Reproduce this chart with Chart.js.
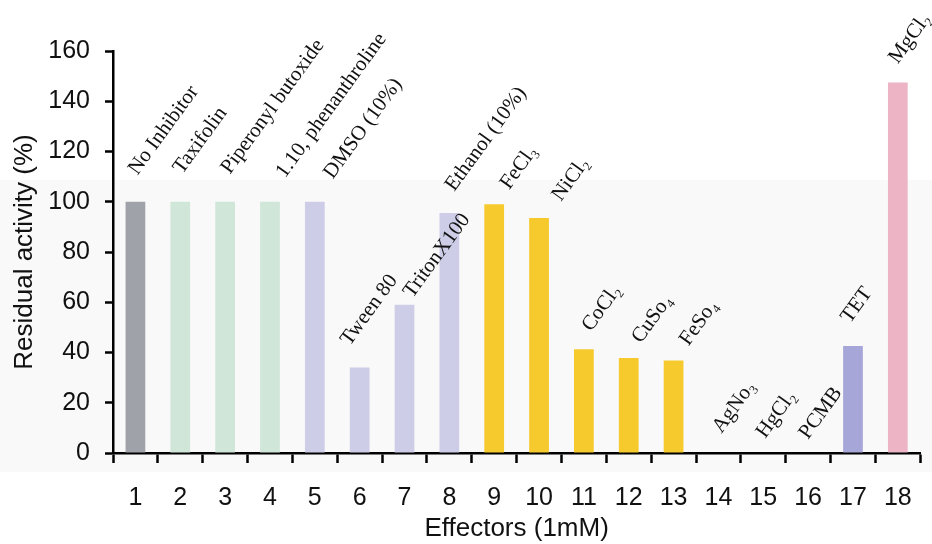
<!DOCTYPE html>
<html>
<head>
<meta charset="utf-8">
<script src="https://cdn.jsdelivr.net/npm/chart.js@4.4.1/dist/chart.umd.min.js"></script>
<style>
  html, body { margin: 0; padding: 0; background: #fff; }
  #wrap { width: 932px; height: 544px; position: relative; }
</style>
</head>
<body>
<div id="wrap"><canvas id="effectors" width="932" height="544"></canvas></div>
<script>
// categories (tick labels) and effector names written above each bar
const categorias = ['1','2','3','4','5','6','7','8','9','10','11','12','13','14','15','16','17','18'];
const efetores = [
    'No Inhibitor', 'Taxifolin', 'Piperonyl butoxide', '1.10, phenanthroline', 'DMSO (10%)',
    'Tween 80', 'TritonX100', 'Ethanol (10%)', 'FeCl₃', 'NiCl₂',
    'CoCl₂', 'CuSo₄', 'FeSo₄', 'AgNo₃', 'HgCl₂', 'PCMB', 'TET', 'MgCl₂'
];
// residual activity (%)
const atividade = [100, 100, 100, 100, 100, 34, 59, 95.5, 99, 93.5, 41.3, 37.8, 36.8, 0, 0, 0, 42.6, 147.5];
const yTicks = [0, 20, 40, 60, 80, 100, 120, 140, 160];

const cores = [
    '#9fa2a9', '#d0e6d9', '#d0e6d9', '#d0e6d9', '#cdcde7', '#cdcde7', '#cdcde7', '#cdcde7',
    '#f6c92c', '#f6c92c', '#f6c92c', '#f6c92c', '#f6c92c', '#f6c92c', '#f6c92c', '#f6c92c',
    '#a6a6d8', '#ecb4c5'
];
// small nudges of each rotated name relative to its bar top (px)
const ajusteX = [2, 2, 5, 15, 18, -10, 8, 5, 15, 22, 7, 12, 15, 3, 2, 0, -3, 0];
const ajusteY = [-26, -27, -27, -23, -22, -21, -6, -21, -14, -16, -17, -14, -14, -19, -14, -13, -22, -18];

const sans = "'Liberation Sans', Arial, sans-serif";

// faint grey band behind the lower part of the figure
const fundo = {
    id: 'fundo',
    beforeDraw(chart) {
        const ctx = chart.ctx;
        ctx.save();
        ctx.fillStyle = '#f9f9f9';
        ctx.fillRect(0, 180, chart.width, 292);
        ctx.restore();
    }
};

// rotated effector names above the bars
const rotulos = {
    id: 'rotulos',
    afterDatasetsDraw(chart) {
        const ctx = chart.ctx;
        const meta = chart.getDatasetMeta(0);
        ctx.save();
        ctx.fillStyle = '#111';
        ctx.font = "21px 'Liberation Serif', 'Times New Roman', serif";
        ctx.textAlign = 'left';
        ctx.textBaseline = 'alphabetic';
        meta.data.forEach((bar, i) => {
            ctx.save();
            ctx.translate(bar.x + ajusteX[i], bar.y + ajusteY[i]);
            ctx.rotate(-54 * Math.PI / 180);
            ctx.fillText(efetores[i], 0, 0);
            ctx.restore();
        });
        ctx.restore();
    }
};

new Chart(document.getElementById('effectors'), {
    type: 'bar',
    plugins: [fundo, rotulos],
    data: {
        labels: categorias,
        datasets: [{
            data: atividade,
            backgroundColor: cores,
            barPercentage: 0.88,
            categoryPercentage: 0.5
        }]
    },
    options: {
        responsive: false,
        animation: false,
        layout: { padding: { left: 4, top: 51, right: 10, bottom: 0 } },
        plugins: {
            legend: { display: false },
            tooltip: { enabled: false }
        },
        scales: {
            x: {
                offset: true,
                afterFit: axis => { axis.height = 91; },
                grid: {
                    offset: true,
                    drawOnChartArea: false,
                    drawTicks: true,
                    tickLength: 10,
                    tickWidth: 2.5,
                    tickColor: '#000'
                },
                border: { display: true, color: '#000', width: 2.5 },
                ticks: { color: '#111', padding: 20, maxRotation: 0, font: { size: 25, family: sans } },
                title: {
                    display: true,
                    text: 'Effectors (1mM)',
                    color: '#111',
                    padding: { top: 0, bottom: 0 },
                    font: { size: 26, family: sans }
                }
            },
            y: {
                min: 0,
                max: 160,
                afterBuildTicks: axis => { axis.ticks = yTicks.map(v => ({ value: v })); },
                afterFit: axis => { axis.width = 109; },
                grid: {
                    drawOnChartArea: false,
                    drawTicks: true,
                    tickLength: 8,
                    tickWidth: 2.5,
                    tickColor: '#000'
                },
                border: { display: true, color: '#000', width: 2.5 },
                ticks: { color: '#111', padding: 15, font: { size: 25, family: sans } },
                title: {
                    display: true,
                    text: 'Residual activity (%)',
                    color: '#111',
                    padding: { top: 5, bottom: 8 },
                    font: { size: 26, family: sans }
                }
            }
        }
    }
});
</script>
</body>
</html>
